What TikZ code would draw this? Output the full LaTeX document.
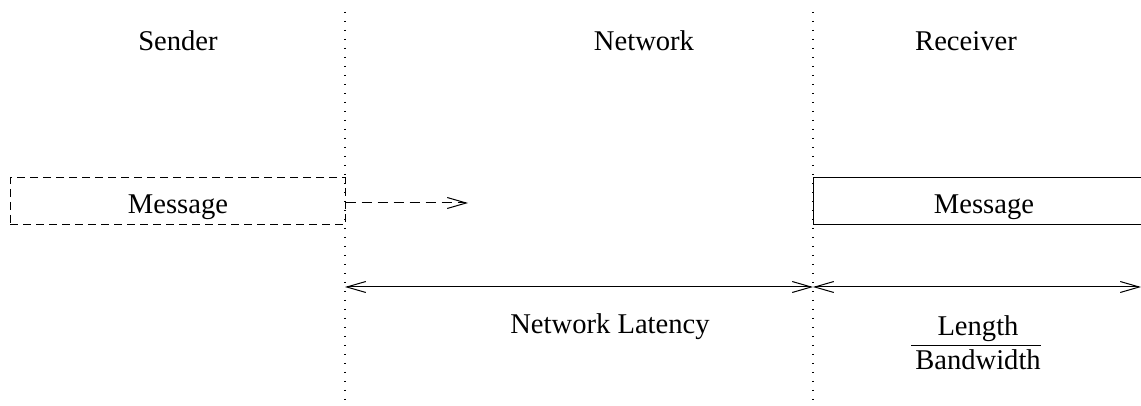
\documentclass[tikz,border=0pt]{standalone}
\usepackage{fontspec}
\setmainfont{Liberation Serif}
\usetikzlibrary{arrows.meta}
\begin{document}
\begin{tikzpicture}[x=0.5pt,y=-0.5pt,
  every node/.style={font=\fontsize{14.3}{17}\selectfont, inner sep=0pt},
  divider/.style={dash pattern=on 0.6pt off 3.9pt, line width=0.6pt},
  msgline/.style={line width=0.5pt},
  boxdash/.style={dash pattern=on 4pt off 2.5pt},
  barb/.style={line width=0.5pt, arrows={Straight Barb[length=9.5pt,width=5.5pt,line width=0.5pt]-Straight Barb[length=9.5pt,width=5.5pt,line width=0.5pt]}},
  fwd/.style={line width=0.5pt, -{Straight Barb[length=9.5pt,width=5.5pt,line width=0.5pt]}}]
\useasboundingbox (0,0) rectangle (1141,406);
% dividers
\coordinate (d1t) at (345,12); \coordinate (d1b) at (345,406);
\coordinate (d2t) at (813,12); \coordinate (d2b) at (813,406);
\draw[divider] (d1t) -- (d1b);
\draw[divider] (d2t) -- (d2b);
% titles
\node (sender) at (178,41) {Sender};
\node (network) at (644,41) {Network};
\node (receiver) at (966,41) {Receiver};
% sender message
\node[draw, boxdash, line width=0.5pt, minimum width=335pt*0.5, minimum height=23.5pt] (smsg) at (177.5,201.5) {};
\node (stext) at (178,207) {Message};
\coordinate (sa) at (468,203);
\draw[fwd, dash pattern=on 5pt off 3pt] (smsg.east |- sa) -- (sa);
% receiver message
\coordinate (rtl) at (813,178); \coordinate (rtr) at (1141,178);
\coordinate (rbl) at (813,225); \coordinate (rbr) at (1141,225);
\draw[msgline] (rtr) -- (rtl) -- (rbl) -- (rbr);
\node (rmsg) at (984,207) {Message};
% dimension arrows
\coordinate (a1) at (345,287); \coordinate (a2) at (813,287); \coordinate (a3) at (1141,287);
\draw[barb] (a1) -- (a2);
\draw[barb] (a2) -- (a3);
\node (lat) at (610,327) {Network Latency};
\node (num) at (978,329) {Length};
\node (den) at (978,360) {Bandwidth};
\coordinate (fl) at (911,346); \coordinate (fr) at (1041,346);
\draw[msgline] (fl) -- (fr);
\end{tikzpicture}
\end{document}
